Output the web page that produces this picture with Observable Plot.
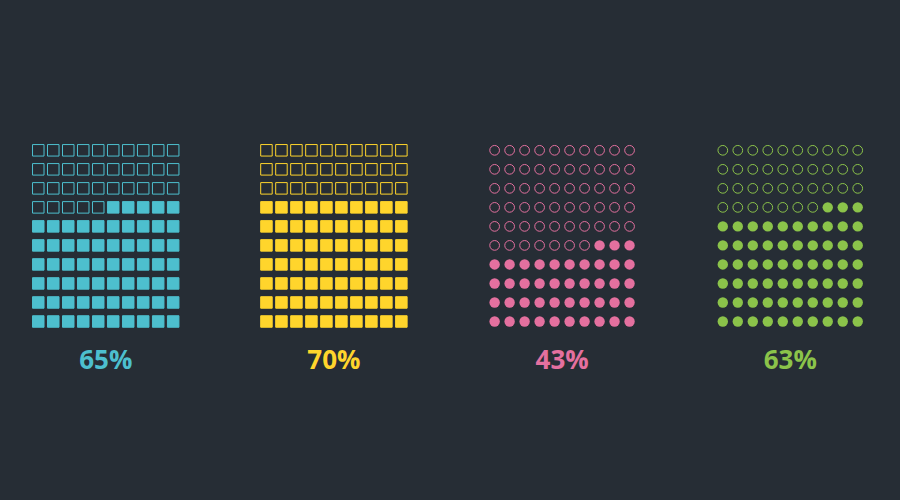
<!DOCTYPE html>
<html>
<head>
<meta charset="utf-8">
<script src="https://cdn.jsdelivr.net/npm/d3@7"></script>
<script src="https://cdn.jsdelivr.net/npm/@observablehq/plot@0.6"></script>
<style>
  html, body { margin: 0; padding: 0; background: #262d35; }
  #chart { width: 900px; height: 500px; }
</style>
</head>
<body>
<div id="chart"></div>
<script>
// Data
const panels = [0, 1, 2, 3];
const values = [65, 70, 43, 63];
const colors = ["#4dbfce", "#ffd52c", "#e4709f", "#8bc34a"];
const shapes = ["square", "square", "circle", "circle"];
const gridRows = 10;
const gridCols = 10;

// Build waffle cells: filled from the bottom-right upward
const cells = [];
panels.forEach((p, k) => {
  for (let i = 0; i < gridRows * gridCols; i++) {
    cells.push({
      panel: p,
      row: Math.floor(i / gridCols),
      col: i % gridCols,
      filled: i >= gridRows * gridCols - values[k],
      color: colors[k],
      shape: shapes[k]
    });
  }
});
const labels = panels.map((p, k) => ({panel: p, text: values[k] + "%", color: colors[k]}));

const isSq = d => d.shape === "square";
const chart = Plot.plot({
  width: 900,
  height: 500,
  marginTop: 140.3,
  marginBottom: 169.5,
  marginLeft: 0,
  marginRight: 5,
  style: {background: "#262d35", overflow: "visible"},
  x: {domain: [-0.5, 9.5], axis: null},
  y: {domain: [-0.5, 9.5], axis: null, reverse: true},
  fx: {domain: panels, paddingInner: 0.343, paddingOuter: 0.1327, axis: null, round: false},
  color: {type: "identity"},
  marks: [
    Plot.dot(cells.filter(d => isSq(d) && !d.filled), {fx: "panel", x: "col", y: "row", symbol: "square", r: 6.49, stroke: "color", fill: "none", strokeWidth: 1}),
    Plot.dot(cells.filter(d => isSq(d) && d.filled), {fx: "panel", x: "col", y: "row", symbol: "square", r: 6.49, stroke: "color", fill: "color", strokeWidth: 1}),
    Plot.dot(cells.filter(d => !isSq(d) && !d.filled), {fx: "panel", x: "col", y: "row", symbol: "circle", r: 4.85, stroke: "color", fill: "none", strokeWidth: 1}),
    Plot.dot(cells.filter(d => !isSq(d) && d.filled), {fx: "panel", x: "col", y: "row", symbol: "circle", r: 5.2, fill: "color", stroke: "none"}),
    Plot.text(labels, {fx: "panel", text: "text", fill: "color", frameAnchor: "bottom", dy: 38, fontSize: 26, fontWeight: "bold", fontFamily: "'Open Sans', sans-serif"})
  ]
});
document.getElementById("chart").appendChild(chart);
</script>
</body>
</html>
